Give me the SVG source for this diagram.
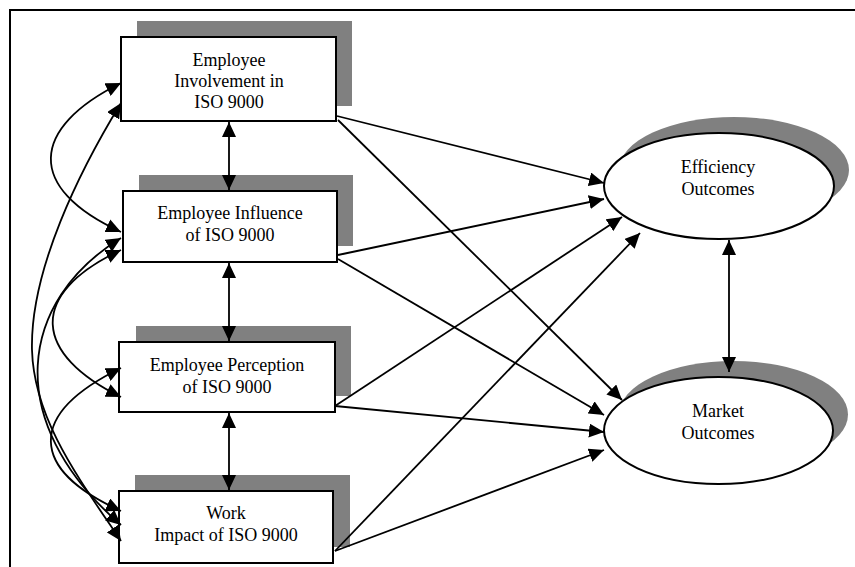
<svg xmlns="http://www.w3.org/2000/svg" width="855" height="567" viewBox="0 0 855 567">
<defs>
<style>
.box{fill:#fff;stroke:#000;stroke-width:2}
.sh{fill:#808080;stroke:none}
.t{font-family:"Liberation Serif","Times New Roman",serif;font-size:18px;fill:#000;text-anchor:middle}
.c{fill:none;stroke:#000;stroke-width:1.8}
.one{marker-end:url(#ah)}
.two{marker-start:url(#ah);marker-end:url(#ah)}
</style>
<marker id="ah" viewBox="0 0 15 14" refX="15" refY="7" markerWidth="15" markerHeight="14" markerUnits="userSpaceOnUse" orient="auto-start-reverse">
<path d="M0,0 L15,7 L0,14 z" fill="#000"/>
</marker>
</defs>
<rect width="855" height="567" fill="#fff"/>
<path d="M10,567 V10 H855" fill="none" stroke="#000" stroke-width="2"/>

<g id="n1">
<rect class="sh" x="137" y="21" width="215" height="85"/>
<rect class="box" x="121" y="37" width="215" height="84"/>
<text class="t" x="229" y="66">Employee</text>
<text class="t" x="229" y="87">Involvement in</text>
<text class="t" x="229" y="108">ISO 9000</text>
</g>
<g id="n2">
<rect class="sh" x="139" y="175" width="214" height="71"/>
<rect class="box" x="123" y="191" width="214" height="71"/>
<text class="t" x="230" y="219">Employee Influence</text>
<text class="t" x="230" y="241">of ISO 9000</text>
</g>
<g id="n3">
<rect class="sh" x="136" y="326" width="215" height="70"/>
<rect class="box" x="119" y="342" width="216" height="70"/>
<text class="t" x="227" y="371">Employee Perception</text>
<text class="t" x="227" y="393">of ISO 9000</text>
</g>
<g id="n4">
<rect class="sh" x="135" y="475" width="215" height="72"/>
<rect class="box" x="119" y="491" width="214" height="72"/>
<text class="t" x="226" y="519">Work</text>
<text class="t" x="226" y="541">Impact of ISO 9000</text>
</g>
<g id="n5">
<ellipse class="sh" cx="734" cy="170" rx="115" ry="53"/>
<ellipse class="box" cx="719" cy="186" rx="115" ry="53"/>
<text class="t" x="718" y="173">Efficiency</text>
<text class="t" x="718" y="195">Outcomes</text>
</g>
<g id="n6">
<ellipse class="sh" cx="733.5" cy="414.5" rx="114.5" ry="53.5"/>
<ellipse class="box" cx="718.5" cy="430.5" rx="114.5" ry="53.5"/>
<text class="t" x="718" y="417">Market</text>
<text class="t" x="718" y="439">Outcomes</text>
</g>

<g id="connectors">
<line class="c two" x1="229" y1="122" x2="229" y2="190"/>
<line class="c two" x1="229" y1="263" x2="229" y2="341"/>
<line class="c two" x1="229" y1="413" x2="229" y2="490"/>
<line class="c two" x1="729" y1="240" x2="729" y2="372"/>

<line class="c one" x1="337" y1="116" x2="604" y2="183"/>
<line class="c one" x1="338" y1="120" x2="622" y2="400"/>
<line class="c one" x1="338" y1="255" x2="604" y2="199"/>
<line class="c one" x1="338" y1="259" x2="604" y2="415"/>
<line class="c one" x1="335" y1="406" x2="622" y2="217"/>
<line class="c one" x1="335" y1="406" x2="604" y2="432"/>
<line class="c one" x1="335" y1="551" x2="640" y2="233"/>
<line class="c one" x1="335" y1="551" x2="604" y2="450"/>

<path class="c two" d="M121,83 C30,128 25,188 121,232"/>
<path class="c two" d="M121,103 C80,170 30,270 32,350 C34,420 80,480 121,541"/>
<path class="c two" d="M121,250 C25,295 35,355 121,397"/>
<path class="c two" d="M121,238 C20,300 0,420 121,525"/>
<path class="c two" d="M121,368 C25,415 30,470 121,511"/>
</g>
</svg>
